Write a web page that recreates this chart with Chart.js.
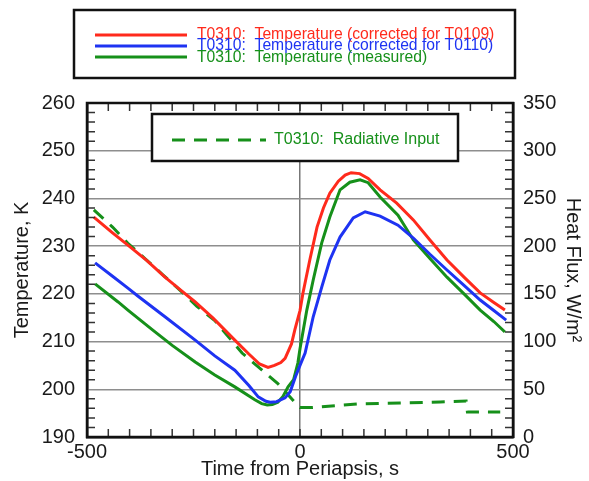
<!DOCTYPE html>
<html lang="en">
<head>
    <meta charset="UTF-8">
    <title>T0310 temperature and radiative input</title>
    <style>
        body {
            margin: 0;
            background: #fff;
        }
        #chart {
            display: block;
        }
    </style>
    <script src="https://cdn.jsdelivr.net/npm/chart.js"></script>
</head>
<body>
    <canvas id="chart" width="589" height="481"></canvas>

    <script>
        // Values
        const redTime = [-484, -440, -404, -360, -317, -280, -246, -204, -153, -120, -95, -75, -60, -45, -35, -20, -12, 0, 7, 23, 40, 55, 70, 90, 106, 120, 140, 160, 188, 227, 266, 305, 345, 385, 423, 455, 481];
        const redTemp = [236.1, 232.8, 230.2, 227.0, 223.5, 220.8, 218.3, 214.9, 210.3, 207.4, 205.3, 204.6, 205.0, 205.6, 206.5, 209.5, 212.5, 216.5, 220.2, 227.1, 234.0, 238.0, 241.1, 243.6, 244.9, 245.4, 245.2, 244.2, 241.8, 239.0, 235.5, 231.3, 227.1, 223.5, 220.2, 218.2, 216.6];

        const blueTime = [-481, -440, -404, -380, -317, -246, -200, -153, -120, -98, -80, -70, -55, -35, -23, -10, 0, 12, 31, 51, 70, 94, 125, 153, 188, 230, 266, 305, 345, 385, 423, 455, 484];
        const blueTemp = [226.5, 223.7, 221.2, 219.5, 215.2, 210.3, 207.0, 204.0, 200.8, 198.4, 197.5, 197.3, 197.4, 198.2, 199.5, 202.8, 205.0, 207.6, 215.2, 221.4, 227.1, 231.9, 235.9, 237.2, 236.3, 234.4, 231.7, 228.3, 225.0, 221.8, 218.7, 216.5, 214.5];

        const greenTime = [-481, -427, -404, -347, -300, -246, -200, -153, -106, -90, -77, -65, -52, -40, -28, -15, -5, 0, 16, 31, 51, 70, 94, 117, 141, 160, 188, 230, 266, 305, 345, 385, 423, 455, 481];
        const greenTemp = [222.1, 218.3, 216.6, 212.5, 209.2, 205.7, 203.0, 200.5, 197.8, 197.0, 196.7, 196.8, 197.3, 198.5, 200.5, 202.0, 205.5, 208.5, 216.6, 222.9, 230.7, 236.1, 241.8, 243.4, 243.9, 243.3, 240.3, 236.5, 231.3, 227.4, 223.5, 220.0, 216.6, 214.2, 212.0];

        const fluxTime = [-484, -440, -404, -364, -322, -282, -242, -200, -136, -89, -52, -5, 0, 30, 134, 235, 329, 390, 393, 470];
        const fluxValue = [238, 220, 203, 187, 170, 154, 137, 122, 88, 70, 56, 33, 31, 31, 34.6, 35.6, 36.7, 37.7, 26.2, 26.2];

        const xTicks = [-500, 0, 500];
        const tempRange = [190, 260];
        const fluxRange = [0, 350];

        const labelRed = 'T0310:  Temperature (corrected for T0109)';
        const labelBlue = 'T0310:  Temperature (corrected for T0110)';
        const labelGreen = 'T0310:  Temperature (measured)';
        const labelFlux = 'T0310:  Radiative Input';

        const RED = '#ff2a1c';
        const BLUE = '#1e33f2';
        const GREEN = '#16901a';
        const FONT = "'Liberation Sans', Arial, sans-serif";

        function toPoints(xs, ys) {
            return xs.map((x, i) => ({ x: x, y: ys[i] }));
        }

        // frame, inward minor ticks and the two boxed legends
        const decorations = {
            id: 'decorations',
            afterDraw(chart) {
                const ctx = chart.ctx;
                const area = chart.chartArea;
                const sx = chart.scales.x;
                const sy = chart.scales.y;
                const sy1 = chart.scales.y1;

                ctx.save();
                ctx.strokeStyle = '#333';
                ctx.lineWidth = 1.5;
                ctx.beginPath();
                for (let v = -450; v <= 450; v += 50) {
                    const px = sx.getPixelForValue(v);
                    ctx.moveTo(px, area.bottom);
                    ctx.lineTo(px, area.bottom - 8);
                    ctx.moveTo(px, area.top);
                    ctx.lineTo(px, area.top + 8);
                }
                for (let v = tempRange[0] + 2; v < tempRange[1]; v += 2) {
                    if (v % 10 === 0) continue;
                    const py = sy.getPixelForValue(v);
                    ctx.moveTo(area.left, py);
                    ctx.lineTo(area.left + 8, py);
                }
                for (let v = fluxRange[0] + 10; v < fluxRange[1]; v += 10) {
                    if (v % 50 === 0) continue;
                    const py = sy1.getPixelForValue(v);
                    ctx.moveTo(area.right, py);
                    ctx.lineTo(area.right - 8, py);
                }
                ctx.stroke();

                // plot frame
                ctx.strokeStyle = '#111';
                ctx.lineWidth = 2.5;
                ctx.strokeRect(area.left, area.top, area.right - area.left, area.bottom - area.top);

                const ds = chart.data.datasets;

                // top legend box
                ctx.fillStyle = '#fff';
                ctx.fillRect(74, 10, 441, 68);
                ctx.strokeStyle = '#111';
                ctx.lineWidth = 2.5;
                ctx.strokeRect(74, 10, 441, 68);
                ctx.font = '15.7px ' + FONT;
                ctx.textAlign = 'left';
                ctx.textBaseline = 'alphabetic';
                const rows = [[0, 35, 38.5], [1, 46, 50], [2, 57, 61.5]];
                rows.forEach(([i, ly, ty]) => {
                    ctx.strokeStyle = ds[i].borderColor;
                    ctx.lineWidth = 3;
                    ctx.beginPath();
                    ctx.moveTo(95, ly);
                    ctx.lineTo(187, ly);
                    ctx.stroke();
                    ctx.fillStyle = ds[i].borderColor;
                    ctx.fillText(ds[i].label, 197, ty);
                });

                // inner legend box for the heat flux
                ctx.fillStyle = '#fff';
                ctx.fillRect(152, 114, 306, 47);
                ctx.strokeStyle = '#111';
                ctx.lineWidth = 2.5;
                ctx.strokeRect(152, 114, 306, 47);
                ctx.strokeStyle = ds[3].borderColor;
                ctx.lineWidth = 3;
                ctx.setLineDash([13, 9]);
                ctx.beginPath();
                ctx.moveTo(172, 140);
                ctx.lineTo(266, 140);
                ctx.stroke();
                ctx.setLineDash([]);
                ctx.font = '16px ' + FONT;
                ctx.fillStyle = ds[3].borderColor;
                ctx.fillText(ds[3].label, 274, 144);
                ctx.restore();
            }
        };

        const tickFont = { family: FONT, size: 20 };
        const titleFont = { family: FONT, size: 20 };

        new Chart(document.getElementById('chart'), {
            type: 'line',
            data: {
                datasets: [
                    { label: labelRed, data: toPoints(redTime, redTemp), borderColor: RED, yAxisID: 'y', order: 0 },
                    { label: labelBlue, data: toPoints(blueTime, blueTemp), borderColor: BLUE, yAxisID: 'y', order: 1 },
                    { label: labelGreen, data: toPoints(greenTime, greenTemp), borderColor: GREEN, yAxisID: 'y', order: 2 },
                    { label: labelFlux, data: toPoints(fluxTime, fluxValue), borderColor: GREEN, borderDash: [13, 9], yAxisID: 'y1', order: 3 }
                ]
            },
            options: {
                responsive: false,
                animation: false,
                layout: { padding: { top: 103, left: 0, right: 0, bottom: 0 } },
                elements: {
                    point: { radius: 0 },
                    line: { borderWidth: 3, tension: 0, fill: false }
                },
                plugins: {
                    legend: { display: false },
                    tooltip: { enabled: false }
                },
                scales: {
                    x: {
                        type: 'linear',
                        min: xTicks[0],
                        max: xTicks[xTicks.length - 1],
                        afterBuildTicks: (scale) => { scale.ticks = xTicks.map(v => ({ value: v })); },
                        afterFit: (scale) => { scale.height = 44; },
                        grid: {
                            drawTicks: false,
                            lineWidth: 1.5,
                            color: (c) => c.tick && c.tick.value === 0 ? '#777' : 'rgba(0,0,0,0)'
                        },
                        border: { display: true, color: '#111', width: 2.5 },
                        ticks: { font: tickFont, color: '#1a1a1a', padding: 3, maxRotation: 0 },
                        title: { display: true, text: 'Time from Periapsis, s', font: titleFont, color: '#1a1a1a', padding: { top: 0, bottom: 0 } }
                    },
                    y: {
                        position: 'left',
                        min: tempRange[0],
                        max: tempRange[1],
                        ticks: { stepSize: 10, font: tickFont, color: '#1a1a1a', padding: 12 },
                        afterFit: (scale) => { scale.width = 87; },
                        grid: { drawTicks: false, lineWidth: 1.5, color: '#8e8e8e' },
                        border: { display: true, color: '#111', width: 2.5 },
                        title: { display: true, text: 'Temperature, K', font: titleFont, color: '#1a1a1a', padding: { top: 10, bottom: 0 } }
                    },
                    y1: {
                        position: 'right',
                        min: fluxRange[0],
                        max: fluxRange[1],
                        ticks: { stepSize: 50, font: tickFont, color: '#1a1a1a', padding: 10 },
                        afterFit: (scale) => { scale.width = 76; },
                        grid: { display: false, drawTicks: false },
                        border: { display: true, color: '#111', width: 2.5 },
                        title: { display: true, text: 'Heat Flux, W/m²', font: titleFont, color: '#1a1a1a', padding: { top: 4, bottom: 0 } }
                    }
                }
            },
            plugins: [decorations]
        });
    </script>
</body>
</html>
